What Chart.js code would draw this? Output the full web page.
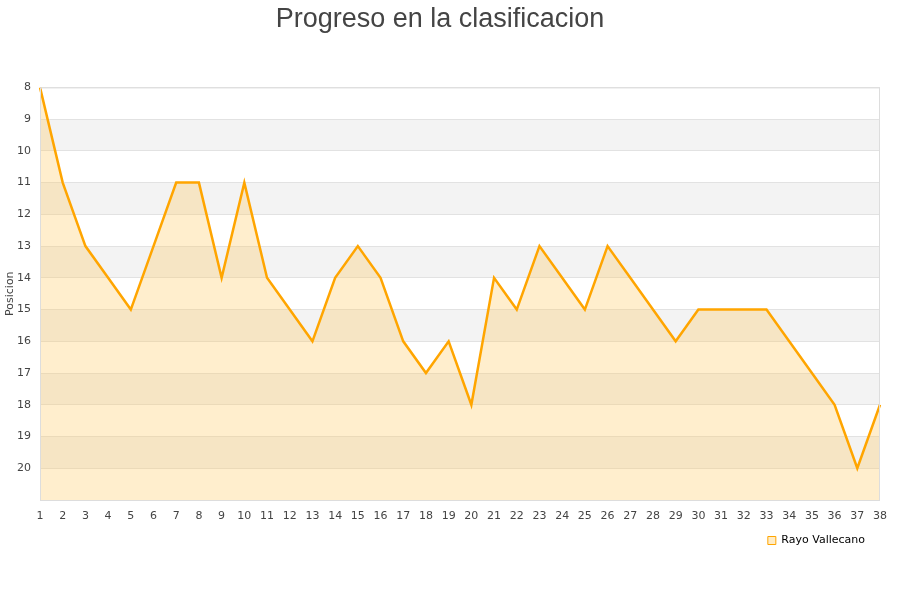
<!DOCTYPE html>
<html>
<head>
<meta charset="utf-8">
<script src="https://cdn.jsdelivr.net/npm/chart.js@4/dist/chart.umd.min.js"></script>
<style>
html,body{margin:0;padding:0;background:#fff;}
#wrap{width:900px;height:600px;}
</style>
</head>
<body>
<div id="wrap"><canvas id="c" width="900" height="600"></canvas></div>
<script>
const jornadas = ['1','2','3','4','5','6','7','8','9','10','11','12','13','14','15','16','17','18','19','20','21','22','23','24','25','26','27','28','29','30','31','32','33','34','35','36','37','38'];
const posiciones = [8,11,13,14,15,13,11,11,14,11,14,15,16,14,13,14,16,17,16,18,14,15,13,14,15,13,14,15,16,15,15,15,15,16,17,18,20,18];
const equipo = 'Rayo Vallecano';
const posMin = 8;
const posMax = 21;

const bandsPlugin = {
  id: 'bands',
  beforeDraw(chart) {
    const {ctx, chartArea: a, scales: {y}} = chart;
    ctx.save();
    ctx.fillStyle = '#ffffff';
    ctx.fillRect(a.left, a.top, a.right - a.left, a.bottom - a.top);
    ctx.fillStyle = '#f3f3f3';
    for (let v = 9; v < posMax - 1; v += 2) {
      const t = y.getPixelForValue(v), b = y.getPixelForValue(v + 1);
      ctx.fillRect(a.left, t, a.right - a.left, b - t);
    }
    ctx.restore();
  },
  afterDraw(chart) {
    const {ctx, chartArea: a} = chart;
    ctx.save();
    ctx.strokeStyle = '#dddddd';
    ctx.lineWidth = 1;
    ctx.strokeRect(a.left + 0.5, a.top + 0.5, a.right - a.left - 1, a.bottom - a.top);
    ctx.restore();
  }
};

new Chart(document.getElementById('c'), {
  type: 'line',
  data: {
    labels: jornadas,
    datasets: [{
      label: equipo,
      data: posiciones,
      borderColor: '#ffa500',
      backgroundColor: 'rgba(255,200,90,0.30)',
      borderWidth: 2.5,
      pointRadius: 0,
      tension: 0,
      fill: {value: posMax}
    }]
  },
  options: {
    responsive: false,
    animation: false,
    layout: {padding: {top: 0, right: 20, bottom: 44, left: 0}},
    plugins: {
      title: {
        display: true,
        text: 'Progreso en la clasificacion',
        color: '#444444',
        font: {family: 'Liberation Sans', size: 27, weight: 'normal'},
        padding: {top: 3, bottom: 52}
      },
      legend: {
        position: 'bottom',
        align: 'end',
        labels: {
          boxWidth: 8,
          boxHeight: 8,
          color: '#000000',
          font: {family: 'DejaVu Sans', size: 11},
          padding: 15,
          generateLabels(chart) {
            return [{
              text: equipo,
              fillStyle: 'rgba(255,200,90,0.35)',
              strokeStyle: '#ffa500',
              lineWidth: 1,
              datasetIndex: 0,
              fontColor: '#000'
            }];
          }
        }
      },
      tooltip: {enabled: false}
    },
    scales: {
      x: {
        offset: false,
        grid: {display: false},
        border: {display: false},
        ticks: {
          color: '#444444',
          font: {family: 'DejaVu Sans', size: 11},
          maxRotation: 0,
          autoSkip: false,
          padding: 2
        },
        afterFit(s) { s.height = 20; }
      },
      y: {
        reverse: true,
        min: posMin,
        max: posMax,
        grid: {color: '#e2e2e2', drawTicks: false},
        border: {display: false},
        ticks: {
          stepSize: 1,
          color: '#444444',
          font: {family: 'DejaVu Sans', size: 11},
          padding: 9,
          callback(v) { return v === posMax ? '' : v; }
        },
        title: {
          display: true,
          text: 'Posicion',
          color: '#444444',
          font: {family: 'DejaVu Sans', size: 11},
          padding: {top: 4, bottom: 0}
        },
        afterFit(s) { s.width = 40; }
      }
    }
  },
  plugins: [bandsPlugin]
});
</script>
</body>
</html>
